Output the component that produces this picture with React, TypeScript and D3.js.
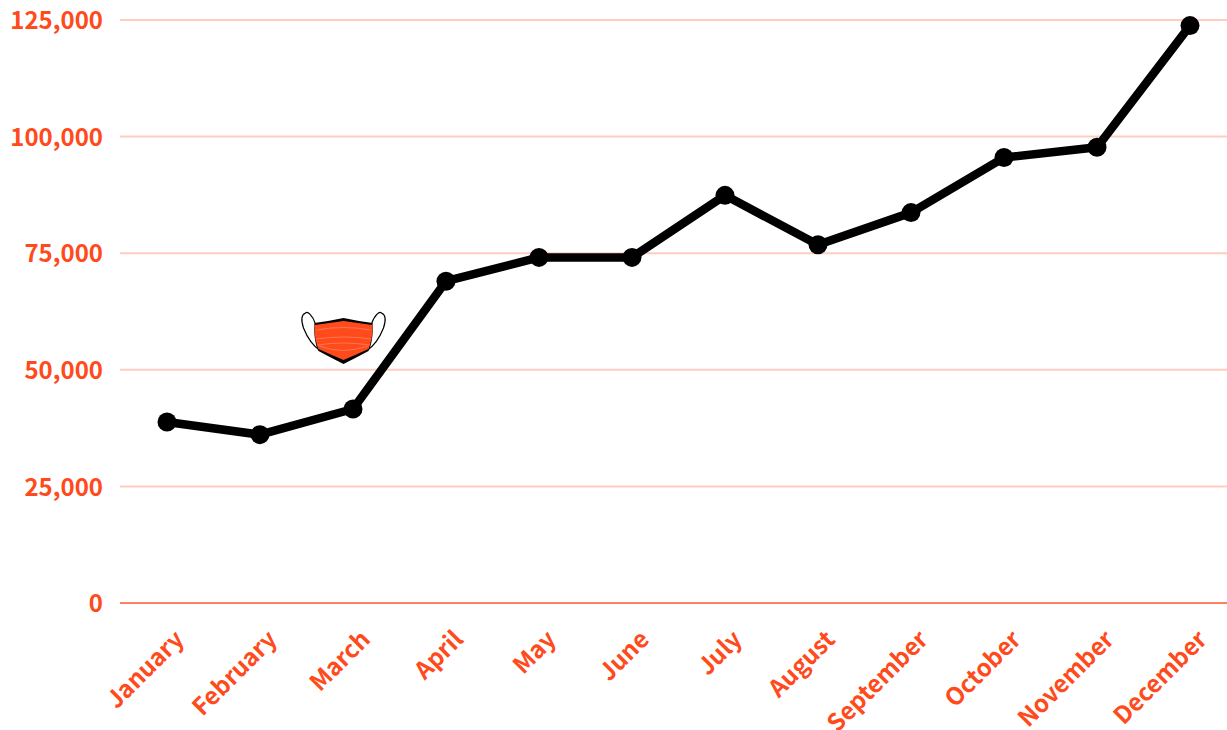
import { useEffect, useRef } from "react";
import * as d3 from "d3";

const months = [
  "January",
  "February",
  "March",
  "April",
  "May",
  "June",
  "July",
  "August",
  "September",
  "October",
  "November",
  "December",
];
const values = [38800, 36100, 41600, 69000, 74100, 74100, 87400, 76800, 83700, 95500, 97700, 123800];
const yTicks = [0, 25000, 50000, 75000, 100000, 125000];

const width = 1227;
const height = 730;
const orange = "#ff4a1c";
const fontFamily = '"Noto Sans CJK SC", "Noto Sans", sans-serif';

export default function App() {
  const svgRef = useRef<SVGSVGElement>(null);

  useEffect(() => {
    if (!svgRef.current) return;
    const svg = d3.select(svgRef.current);
    svg.selectAll("*").remove();

    const x = d3.scalePoint<string>().domain(months).range([167, 1190]);
    const y = d3.scaleLinear().domain([0, 125000]).range([603, 20]);

    // grid lines + y labels
    const yAxis = svg
      .append("g")
      .attr("transform", "translate(120,0)")
      .call(
        d3
          .axisLeft(y)
          .offset(0)
          .tickValues(yTicks)
          .tickSize(-(width - 120))
          .tickPadding(17)
          .tickFormat((d) => d3.format(",")(d as number))
      );
    yAxis.select(".domain").remove();
    yAxis
      .selectAll<SVGLineElement, number>("line")
      .attr("stroke", orange)
      .attr("stroke-opacity", (d) => (d === 0 ? 0.7 : 0.28))
      .attr("stroke-width", 2);
    yAxis
      .selectAll("text")
      .attr("fill", orange)
      .attr("font-family", fontFamily)
      .attr("font-size", 24)
      .attr("font-weight", 700)
      .attr("dy", "0.38em");

    // month labels
    const xAxis = svg
      .append("g")
      .attr("transform", "translate(0,603)")
      .call(d3.axisBottom(x).tickSize(0));
    xAxis.select(".domain").remove();
    xAxis
      .selectAll("text")
      .attr("fill", orange)
      .attr("font-family", fontFamily)
      .attr("font-size", 24)
      .attr("font-weight", 700)
      .attr("text-anchor", "end")
      .attr("dy", 0)
      .attr("y", 0)
      .attr("transform", "translate(18,38) rotate(-45)");

    const line = d3
      .line<number>()
      .x((_, i) => x(months[i]) as number)
      .y((d) => y(d));

    svg
      .append("path")
      .datum(values)
      .attr("fill", "none")
      .attr("stroke", "#000")
      .attr("stroke-width", 8.5)
      .attr("stroke-linejoin", "round")
      .attr("d", line);

    svg
      .selectAll("circle")
      .data(values)
      .join("circle")
      .attr("cx", (_, i) => x(months[i]) as number)
      .attr("cy", (d) => y(d))
      .attr("r", 9.5)
      .attr("fill", "#000");

    // face mask icon, sits above the March point
    const mask = svg
      .append("g")
      .attr("transform", `translate(${(x("March") as number) - 9.5},340)`);
    mask
      .append("path")
      .attr("d", "M-28,-16 C-31,-25 -36,-29 -38,-27 C-43,-25 -42,-18 -40,-12 C-36,-2 -30,6 -24,10")
      .attr("fill", "none")
      .attr("stroke", "#000")
      .attr("stroke-width", 1.2);
    mask
      .append("path")
      .attr("d", "M28,-16 C31,-25 36,-29 38,-27 C43,-25 42,-18 40,-12 C36,-2 30,6 24,10")
      .attr("fill", "none")
      .attr("stroke", "#000")
      .attr("stroke-width", 1.2);
    mask
      .append("path")
      .attr("d", "M-29,-17 Q-14,-19 0,-22 Q14,-19 29,-17 C30,-6 28,6 25,11 Q12,18 0,24 Q-12,18 -25,11 C-28,6 -30,-6 -29,-17 Z")
      .attr("fill", "#000");
    mask
      .append("path")
      .attr("d", "M-29,-15 Q-14,-17 0,-19 Q14,-17 29,-15 C29.5,-6 27,5 25,9 Q12,15 0,20 Q-12,15 -25,9 C-27,5 -29.5,-6 -29,-15 Z")
      .attr("fill", orange);
    const folds = [
      "M-27,-10 Q0,-15 27,-10",
      "M-28,-1 Q0,-5 28,-1",
      "M-26,5 Q0,1 26,5",
      "M-24,6 Q0,15 24,6",
    ];
    mask
      .selectAll("path.fold")
      .data(folds)
      .join("path")
      .attr("class", "fold")
      .attr("d", (d) => d)
      .attr("fill", "none")
      .attr("stroke", "#ff8d6e")
      .attr("stroke-width", 0.8)
      .attr("stroke-opacity", 0.8);
  }, []);

  return (
    <svg
      ref={svgRef}
      width={width}
      height={height}
      style={{ position: "absolute", left: 0, top: 0 }}
    />
  );
}
